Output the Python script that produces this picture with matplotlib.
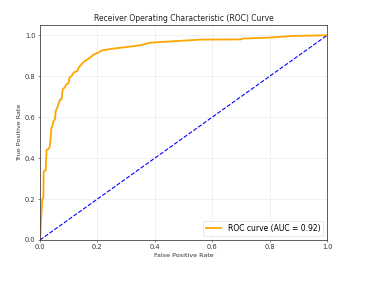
import matplotlib
matplotlib.use("Agg")
import matplotlib.pyplot as plt

fpr = [0.0, 0.002, 0.004, 0.008, 0.012, 0.013, 0.018, 0.020, 0.023, 0.030, 0.034,
       0.040, 0.044, 0.047, 0.052, 0.055, 0.060, 0.066, 0.070, 0.075, 0.079, 0.086,
       0.092, 0.100, 0.103, 0.110, 0.116, 0.120, 0.130, 0.134, 0.140, 0.149, 0.157,
       0.174, 0.188, 0.203, 0.215, 0.255, 0.302, 0.348, 0.383, 0.441, 0.500, 0.557,
       0.700, 0.705, 0.800, 0.880, 1.0]
tpr = [0.0, 0.04, 0.10, 0.196, 0.21, 0.335, 0.34, 0.34, 0.44, 0.445, 0.455,
       0.547, 0.56, 0.58, 0.59, 0.63, 0.645, 0.67, 0.686, 0.686, 0.735, 0.745,
       0.76, 0.768, 0.795, 0.80, 0.815, 0.82, 0.825, 0.84, 0.85, 0.866, 0.875,
       0.89, 0.907, 0.915, 0.926, 0.935, 0.943, 0.951, 0.964, 0.969, 0.974, 0.979,
       0.980, 0.984, 0.989, 0.997, 1.0]
auc_value = 0.92
diag = [0.0, 1.0]

fig = plt.figure(figsize=(3.7, 2.82), dpi=100)
ax = fig.add_axes([0.108, 0.149, 0.776, 0.762])
ax.plot(fpr, tpr, color="orange", lw=1.3,
        label=f"ROC curve (AUC = {auc_value:.2f})")
ax.plot(diag, diag, color="blue", lw=0.8, linestyle="--")
ax.set_xlim(0.0, 1.0)
ax.set_ylim(0.0, 1.05)
ax.set_xlabel("False Positive Rate", fontsize=4.6, labelpad=2, color="#333333")
ax.set_ylabel("True Positive Rate", fontsize=4.6, labelpad=2, color="#333333")
ax.set_title("Receiver Operating Characteristic (ROC) Curve", fontsize=5.5, pad=3,
             color="#222222")
ax.tick_params(labelsize=4.8, length=1.6, width=0.4, pad=1.5, colors="#333333")
for s in ax.spines.values():
    s.set_linewidth(0.6)
    s.set_color("#444444")
ax.grid(True, alpha=0.3, lw=0.4)
ax.legend(loc="lower right", fontsize=5.5, handlelength=2.0, borderpad=0.4,
          framealpha=0.8, fancybox=True).get_frame().set_linewidth(0.4)
fig.savefig("out.png", dpi=100)
